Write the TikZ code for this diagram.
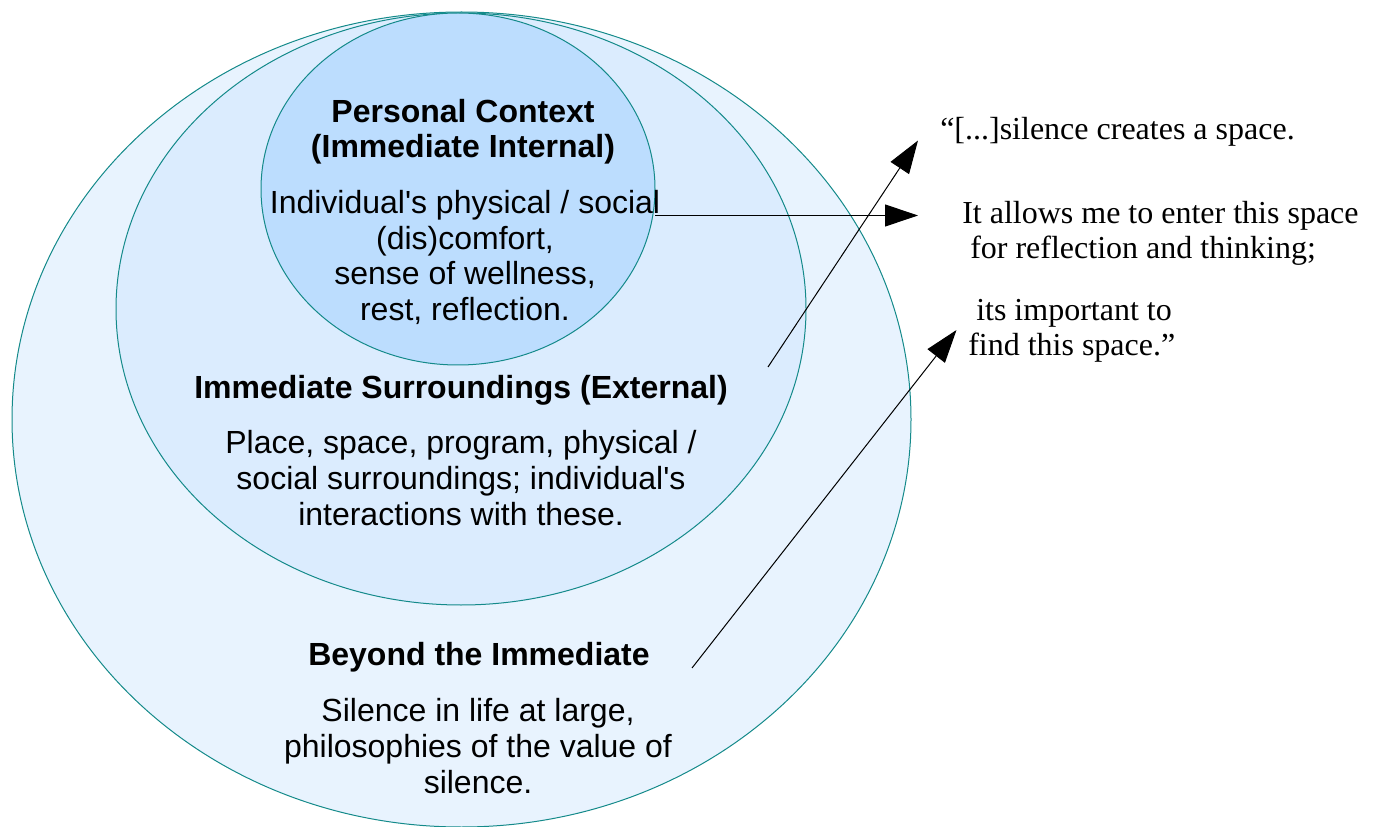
\documentclass[tikz,border=0pt]{standalone}
\usepackage{fontspec}
\setmainfont{Liberation Serif}
\newfontfamily\ringfont{Liberation Sans}
\usetikzlibrary{arrows.meta}
\definecolor{ringline}{RGB}{20,138,138}
\definecolor{outerfill}{RGB}{232,243,254}
\definecolor{middlefill}{RGB}{219,236,254}
\definecolor{innerfill}{RGB}{188,221,254}
\tikzset{
  ringhead/.style={font=\ringfont\bfseries\fontsize{24}{26.5}\selectfont, align=center, inner sep=0pt, anchor=base},
  ringbody/.style={font=\ringfont\fontsize{24}{27}\selectfont, align=center, inner sep=0pt, anchor=base},
  quotetext/.style={font=\rmfamily\fontsize{24}{26.5}\selectfont, align=left, inner sep=0pt, anchor=base west},
  pointer/.style={-{Triangle[length=24.75pt,width=16.5pt]}, line width=0.75pt}
}

\begin{document}
\begin{tikzpicture}[x=0.75pt,y=0.75pt,yscale=-1,xscale=1]
\useasboundingbox (0,0) rectangle (1375,827);

%Shape: Ellipse [beyond the immediate]
\draw [color=ringline, fill=outerfill, line width=0.75] (461.5,419.5) ellipse [x radius=449.5, y radius=407.5];
%Shape: Ellipse [immediate surroundings]
\draw [color=ringline, fill=middlefill, line width=0.75] (461,309) ellipse [x radius=345, y radius=296];
%Shape: Ellipse [personal context]
\draw [color=ringline, fill=innerfill, line width=0.75] (458,189) ellipse [x radius=197, y radius=176];

% Text Node (base = last line)
\node [ringhead] (personalhead) at (463,158) {Personal Context\\(Immediate Internal)};
% Text Node
\node [ringbody] (personalbody) at (465,321) {Individual's physical / social\\(dis)comfort,\\sense of wellness,\\rest, reflection.};
% Text Node
\node [ringhead] (surroundhead) at (461,398) {Immediate Surroundings (External)};
% Text Node
\node [ringbody] (surroundbody) at (461,525) {Place, space, program, physical /\\social surroundings; individual's\\interactions with these.};
% Text Node
\node [ringhead] (beyondhead) at (479,665) {Beyond the Immediate};
% Text Node
\node [ringbody] (beyondbody) at (478,793) {Silence in life at large,\\philosophies of the value of\\silence.};

% Text Node
\node [quotetext] (quoteone) at (940,140) {``[...]silence creates a space.};
% Text Node
\node [quotetext] (quotetwo) at (962,259) {It allows me to enter this space\\\hspace*{6pt}for reflection and thinking;};
% Text Node
\node [quotetext] (quotethree) at (968,356) {\hspace*{6pt}its important to\\find this space.''};

%Straight Lines
\coordinate (tailone) at (768,367);
\coordinate (tipone) at (918,140.5);
\coordinate (tailtwo) at (655,215.5);
\coordinate (tiptwo) at (918,215.5);
\coordinate (tailthree) at (692,668);
\coordinate (tipthree) at (956.5,330);
\draw [pointer] (tailone) -- (tipone);
\draw [pointer] (tailtwo) -- (tiptwo);
\draw [pointer] (tailthree) -- (tipthree);

\end{tikzpicture}
\end{document}
